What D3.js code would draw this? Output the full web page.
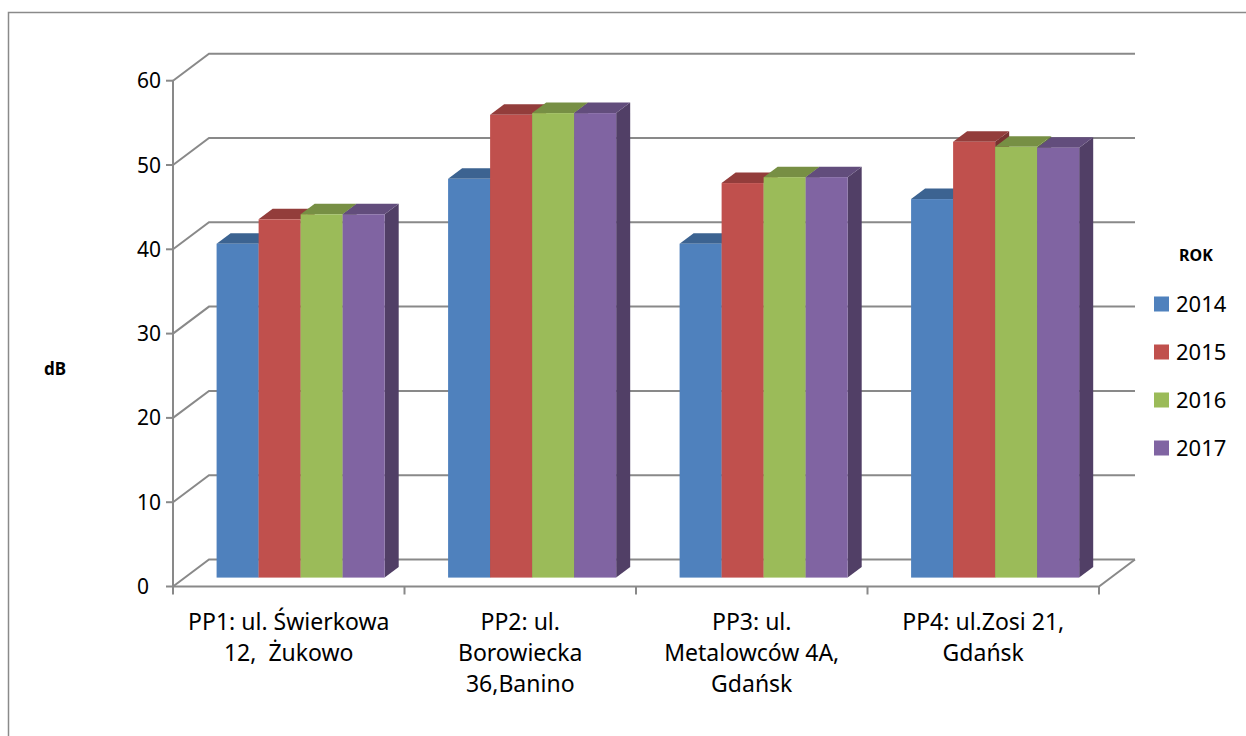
<!DOCTYPE html>
<html>
<head>
<meta charset="utf-8">
<script src="https://cdnjs.cloudflare.com/ajax/libs/d3/7.8.5/d3.min.js"></script>
<style>
  body { margin: 0; background: #fff; }
  svg { display: block; font-family: "Noto Sans", sans-serif; }
  text { white-space: pre; }
</style>
</head>
<body>
<svg id="chart"></svg>
<script>
// Data
let categories = ["PP1", "PP2", "PP3", "PP4"];
let categoryLabels = [
  ["PP1: ul. Świerkowa", "12,  Żukowo"],
  ["PP2: ul.", "Borowiecka", "36,Banino"],
  ["PP3: ul.", "Metalowców 4A,", "Gdańsk"],
  ["PP4: ul.Zosi 21,", "Gdańsk"],
];
let years = ["2014", "2015", "2016", "2017"];
let values2014 = [39.6, 47.3, 39.6, 44.9];
let values2015 = [42.5, 54.9, 46.8, 51.7];
let values2016 = [43.1, 55.1, 47.5, 51.1];
let values2017 = [43.1, 55.1, 47.5, 51.0];
let yTicks = [0, 10, 20, 30, 40, 50, 60];

let series = [values2014, values2015, values2016, values2017];

let width = 1246;
let height = 736;

// 3D look: offsets of the back wall and of the bar faces
let wallDx = 36;
let wallDy = -27;
let barZ0 = 0.33;
let barZ1 = 0.72;

let gridColor = "#898989";

let svg = d3.select("#chart").attr("width", width).attr("height", height);

// outer frame
svg
  .append("rect")
  .attr("x", 8.5)
  .attr("y", 12.5)
  .attr("width", 1300)
  .attr("height", 800)
  .attr("fill", "none")
  .attr("stroke", "#8a8a8a")
  .attr("stroke-width", 1.5);

let yScale = d3.scaleLinear().domain([0, 60]).range([586.5, 80.7]);

let xScale = d3
  .scaleBand()
  .domain(categories)
  .range([173, 1099])
  .paddingInner(0.274)
  .paddingOuter(0.137);

let xSub = d3.scaleBand().domain(years).range([0, xScale.bandwidth()]);

let color = d3
  .scaleOrdinal()
  .domain(years)
  .range(["#4F81BD", "#C0504D", "#9BBB59", "#8064A2"]);

let x0 = xScale.range()[0];
let x1 = xScale.range()[1];

// Gridlines (left wall + back wall)
let grid = svg.append("g").attr("fill", "none").attr("stroke", gridColor).attr("stroke-width", 2);

yTicks.forEach((t) => {
  let y = yScale(t);
  grid
    .append("path")
    .attr("d", `M${x0},${y} L${x0 + wallDx},${y + wallDy} L${x1 + wallDx},${y + wallDy}`);
});

// floor
let yb = yScale(0);
grid
  .append("path")
  .attr("d", `M${x0},${yb} L${x1},${yb} L${x1 + wallDx},${yb + wallDy}`);

// y axis line and ticks
grid.append("path").attr("d", `M${x0},${yScale(60)} L${x0},${yb}`);
yTicks.forEach((t) => {
  grid.append("path").attr("d", `M${x0 - 7},${yScale(t)} L${x0},${yScale(t)}`);
});

// x ticks at band boundaries
let step = xScale.step();
d3.range(categories.length + 1).forEach((i) => {
  let x = x0 + i * step;
  grid.append("path").attr("d", `M${x},${yb} L${x},${yb + 8}`);
});

// Bars
let fx = wallDx * barZ0;
let fy = wallDy * barZ0;
let dx = wallDx * (barZ1 - barZ0);
let dy = wallDy * (barZ1 - barZ0);

let bars = svg.append("g");

categories.forEach((cat, ci) => {
  years.forEach((yr, si) => {
    let v = series[si][ci];
    let left = xScale(cat) + xSub(yr) + fx;
    let right = left + xSub.bandwidth();
    let top = yScale(v) + fy;
    let bottom = yScale(0) + fy;
    let c = color(yr);
    let g = bars.append("g");
    // side
    g.append("path")
      .attr("d", `M${right},${top} L${right + dx},${top + dy} L${right + dx},${bottom + dy} L${right},${bottom} Z`)
      .attr("fill", d3.color(c).darker(1.3));
    // top
    g.append("path")
      .attr("d", `M${left},${top} L${left + dx},${top + dy} L${right + dx},${top + dy} L${right},${top} Z`)
      .attr("fill", d3.color(c).darker(0.75));
    // front
    g.append("rect")
      .attr("x", left)
      .attr("y", top)
      .attr("width", xSub.bandwidth())
      .attr("height", bottom - top)
      .attr("fill", c);
  });
});

// y tick labels
svg
  .append("g")
  .selectAll("text")
  .data(yTicks)
  .enter()
  .append("text")
  .attr("x", 137)
  .attr("y", (d) => yScale(d) + 7.5)
  .attr("font-size", 21)
  .attr("fill", "#000")
  .text((d) => d);

// category labels
let catG = svg.append("g").attr("font-size", 23).attr("fill", "#000").attr("text-anchor", "middle");
categories.forEach((cat, ci) => {
  let cx = x0 + (ci + 0.5) * step;
  let t = catG.append("text").attr("x", cx).attr("y", 629);
  categoryLabels[ci].forEach((line, li) => {
    t.append("tspan").attr("x", cx).attr("y", 630 + li * 31).text(line);
  });
});

// y axis title
svg
  .append("text")
  .attr("x", 55)
  .attr("y", 375)
  .attr("text-anchor", "middle")
  .attr("font-size", 17)
  .attr("font-weight", "bold")
  .text("dB");

// legend
svg
  .append("text")
  .attr("x", 1196)
  .attr("y", 261)
  .attr("text-anchor", "middle")
  .attr("font-size", 16)
  .attr("font-weight", "bold")
  .text("ROK");

let legend = svg
  .append("g")
  .selectAll("g")
  .data(years)
  .enter()
  .append("g")
  .attr("transform", (d, i) => `translate(1154, ${304 + i * 48})`);

legend
  .append("rect")
  .attr("x", 0)
  .attr("y", -7.5)
  .attr("width", 15)
  .attr("height", 15)
  .attr("fill", (d) => color(d));

legend
  .append("text")
  .attr("x", 22)
  .attr("y", 8)
  .attr("font-size", 22)
  .text((d) => d);
</script>
</body>
</html>
